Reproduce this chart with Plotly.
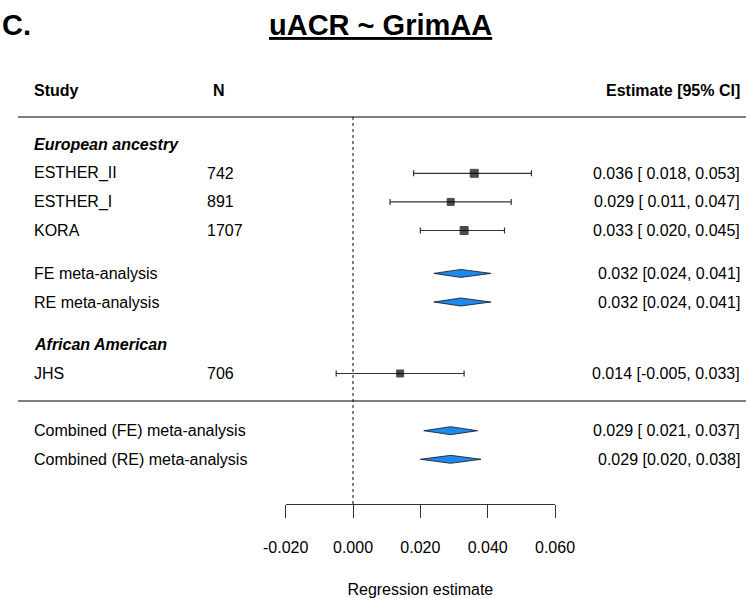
import plotly.graph_objects as go

# ---------------- data ----------------
study_names = ["ESTHER_II", "ESTHER_I", "KORA", "JHS"]
study_n = [742, 891, 1707, 706]
study_est = [0.036, 0.029, 0.033, 0.014]
study_lo = [0.018, 0.011, 0.020, -0.005]
study_hi = [0.053, 0.047, 0.045, 0.033]
study_size = [8, 7, 8, 7]
study_pad = [True, True, True, False]

meta_names = ["FE meta-analysis", "RE meta-analysis",
              "Combined (FE) meta-analysis", "Combined (RE) meta-analysis"]
meta_est = [0.032, 0.032, 0.029, 0.029]
meta_lo = [0.024, 0.024, 0.021, 0.020]
meta_hi = [0.041, 0.041, 0.037, 0.038]
meta_pad = [False, False, True, False]

group_names = ["European ancestry", "African American"]
tick_vals = [-0.02, 0.0, 0.02, 0.04, 0.06]
tick_text = ["-0.020", "0.000", "0.020", "0.040", "0.060"]

# ---------------- layout positions (row units) ----------------
study_rows = [0, 1, 2, 7]
meta_rows = [3.5, 4.5, 9, 10]
group_rows = [-1, 6]
header_row = -2.9
top_line_row = -1.97
mid_line_row = 7.96

W, H = 746, 598
ROW_PX = 28.6
ROW0_PX = 173.3
AXIS_PX = 504
y_top = -ROW0_PX / ROW_PX
y_bot = (AXIS_PX - ROW0_PX) / ROW_PX

FONT = "Liberation Sans, Arial, sans-serif"


def px(x):
    return x / W


def fmt(v):
    return f"{v:.3f}"


def ci_text(e, lo, hi, pad):
    sp = " " if pad else ""
    los = fmt(lo) if lo < 0 else sp + fmt(lo)
    his = fmt(hi) if hi < 0 else (" " + fmt(hi))
    return f"{fmt(e)} [{los},{his}]"


fig = go.Figure()

# study CIs (drawn first)
fig.add_trace(go.Scatter(
    x=study_est, y=study_rows, mode="markers",
    marker=dict(symbol="square", size=1, color="rgba(0,0,0,0)"),
    error_x=dict(type="data", symmetric=False,
                 array=[h - e for h, e in zip(study_hi, study_est)],
                 arrayminus=[e - l for e, l in zip(study_est, study_lo)],
                 color="#333333", thickness=1.2, width=3),
    hoverinfo="skip", showlegend=False))
# study squares on top
fig.add_trace(go.Scatter(
    x=study_est, y=study_rows, mode="markers",
    marker=dict(symbol="square", size=study_size, color="black",
                line=dict(width=1, color="black")),
    hoverinfo="skip", showlegend=False))

# diamonds
dh = 4.0 / ROW_PX
for e, lo, hi, r in zip(meta_est, meta_lo, meta_hi, meta_rows):
    fig.add_trace(go.Scatter(
        x=[lo, e, hi, e, lo], y=[r, r - dh, r, r + dh, r],
        mode="lines", fill="toself", fillcolor="#1E88F0",
        line=dict(color="#111111", width=0.8),
        hoverinfo="skip", showlegend=False))

ann = []


def add_text(text, x, y, anchor="left", bold=False, italic=False, size=16):
    t = text
    if bold:
        t = f"<b>{t}</b>"
    if italic:
        t = f"<i>{t}</i>"
    ann.append(dict(text=t, x=px(x), xref="paper", y=y, yref="y",
                    xanchor=anchor, yanchor="middle", showarrow=False,
                    font=dict(family=FONT, size=size, color="black")))


# headers
add_text("Study", 32, header_row, bold=True)
add_text("N", 211, header_row, bold=True)
add_text("Estimate [95% CI]", 742, header_row, anchor="right", bold=True)

# group labels
for g, r in zip(group_names, group_rows):
    add_text(g, 32, r, bold=True, italic=True)

# study rows
for name, n, e, lo, hi, r, pad in zip(study_names, study_n, study_est,
                                      study_lo, study_hi, study_rows, study_pad):
    add_text(name, 32, r)
    add_text(str(n), 205, r)
    add_text(ci_text(e, lo, hi, pad), 742, r, anchor="right")

# meta rows
for name, e, lo, hi, r, pad in zip(meta_names, meta_est, meta_lo, meta_hi,
                                   meta_rows, meta_pad):
    add_text(name, 32, r)
    add_text(ci_text(e, lo, hi, pad), 742, r, anchor="right")

# title and panel letter
ann.append(dict(text="<b><u>uACR ~ GrimAA</u></b>", x=px(380), xref="paper",
                y=1, yref="paper", yshift=-7, xanchor="center", yanchor="top",
                showarrow=False, font=dict(family=FONT, size=29, color="black")))
ann.append(dict(text="<b>C.</b>", x=px(0), xref="paper", y=1, yref="paper",
                yshift=-7, xanchor="left", yanchor="top", showarrow=False,
                font=dict(family=FONT, size=29, color="black")))

shapes = [
    dict(type="line", xref="paper", yref="y", x0=px(18), x1=1,
         y0=top_line_row, y1=top_line_row, line=dict(color="#555555", width=1.6)),
    dict(type="line", xref="paper", yref="y", x0=px(18), x1=1,
         y0=mid_line_row, y1=mid_line_row, line=dict(color="#555555", width=1.6)),
    dict(type="line", xref="x", yref="y", x0=0, x1=0,
         y0=top_line_row, y1=y_bot, line=dict(color="black", width=1, dash="dot")),
]

fig.update_layout(
    width=W, height=H,
    margin=dict(l=0, r=0, t=0, b=H - AXIS_PX, pad=0, autoexpand=False),
    plot_bgcolor="white", paper_bgcolor="white",
    annotations=ann, shapes=shapes,
    xaxis=dict(domain=[px(285.7), px(555)], range=[-0.02, 0.06],
               showgrid=False, zeroline=False, showline=True,
               linecolor="#333333", linewidth=1.3,
               ticks="outside", ticklen=13, tickwidth=1.3, tickcolor="#333333",
               tickvals=tick_vals, ticktext=tick_text,
               tickfont=dict(family=FONT, size=16, color="black"),
               ticklabelstandoff=16,
               title=dict(text="Regression estimate", standoff=28,
                          font=dict(family=FONT, size=16, color="black")),
               fixedrange=True),
    yaxis=dict(range=[y_bot, y_top], visible=False, showgrid=False,
               zeroline=False, fixedrange=True),
    font=dict(family=FONT),
)

fig.write_html("out.html")
